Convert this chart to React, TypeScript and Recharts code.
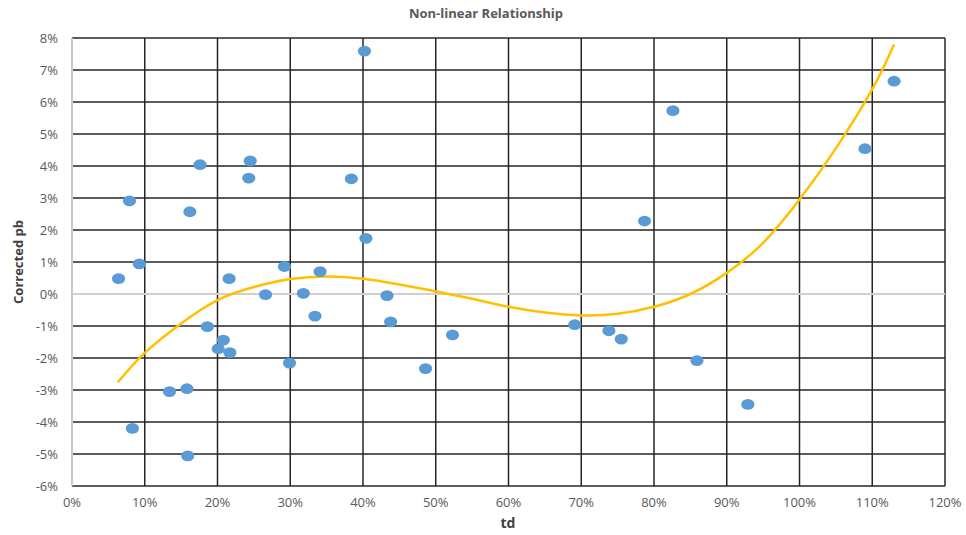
import React from "react";
import {
  ComposedChart,
  Scatter,
  Line,
  XAxis,
  YAxis,
  CartesianGrid,
  ReferenceLine,
} from "recharts";

// observed points: td (%) vs corrected pb (%)
const tdValues = [
  6.4, 7.9, 9.25, 8.3, 13.4, 15.8, 15.9, 16.2, 17.6, 18.6, 20.8, 20.1, 21.7, 21.6,
  24.5, 24.3, 26.6, 29.2, 29.9, 31.8, 33.4, 34.1, 38.4, 40.2, 40.4, 43.3, 43.8,
  48.6, 52.3, 69.1, 73.8, 75.5, 78.7, 82.6, 85.9, 92.9, 109, 113,
];
const pbValues = [
  0.48, 2.91, 0.94, -4.2, -3.05, -2.96, -5.06, 2.57, 4.04, -1.02, -1.44, -1.71, -1.83, 0.48,
  4.16, 3.62, -0.02, 0.86, -2.16, 0.02, -0.69, 0.7, 3.6, 7.59, 1.74, -0.05, -0.87,
  -2.33, -1.28, -0.96, -1.15, -1.41, 2.28, 5.73, -2.08, -3.45, 4.54, 6.65,
];

// polynomial trendline, sampled along td
const trendTd = [
  6.3, 10, 15, 20, 25, 30, 35, 40, 45, 50, 55, 60, 65, 70, 75, 80, 85, 90, 95, 100,
  105, 110, 113,
];
const trendPb = [
  -2.76, -1.84, -0.92, -0.19, 0.22, 0.47, 0.55, 0.48, 0.3, 0.08, -0.15, -0.4, -0.58,
  -0.67, -0.62, -0.4, 0.0, 0.66, 1.6, 2.95, 4.55, 6.4, 7.8,
];

const xTicks = [0, 10, 20, 30, 40, 50, 60, 70, 80, 90, 100, 110, 120];
const yTicks = [-6, -5, -4, -3, -2, -1, 0, 1, 2, 3, 4, 5, 6, 7, 8];

const points = tdValues.map((x, i) => ({ x, y: pbValues[i] }));
const trend = trendTd.map((x, i) => ({ x, y: trendPb[i] }));

const FONT = "'Open Sans', 'Liberation Sans', sans-serif";
const tickStyle = { fontSize: 13, fill: "#595959", fontFamily: FONT };

const Dot = (props: any) => (
  <ellipse cx={props.cx} cy={props.cy} rx={6.6} ry={5.4} fill="#5B9BD5" />
);

export default function App() {
  return (
    <div style={{ position: "relative", width: 966, height: 535, background: "#fff" }}>
      <style>{`body{margin:0}`}</style>
      <div
        style={{
          position: "absolute",
          left: 0,
          top: 4,
          width: 966,
          textAlign: "center",
          paddingLeft: 3,
          fontFamily: FONT,
          fontWeight: 700,
          fontSize: 13,
          color: "#595959",
        }}
      >
        Non-linear Relationship
      </div>
      <ComposedChart
        width={966}
        height={535}
        margin={{ top: 38, right: 21, bottom: 0, left: 0 }}
      >
        <CartesianGrid stroke="#262626" strokeWidth={1.5} />
        <XAxis
          type="number"
          dataKey="x"
          domain={[0, 120]}
          ticks={xTicks}
          allowDataOverflow
          tickFormatter={(v) => `${v}%`}
          axisLine={false}
          tickLine={false}
          tickSize={0}
          tickMargin={12}
          height={49}
          tick={tickStyle}
        />
        <YAxis
          type="number"
          dataKey="y"
          domain={[-6, 8]}
          ticks={yTicks}
          allowDataOverflow
          tickFormatter={(v) => `${v}%`}
          axisLine={false}
          tickLine={false}
          tickSize={0}
          tickMargin={14}
          width={72}
          tick={tickStyle}
        />
        <ReferenceLine y={0} stroke="#d0d0d0" strokeWidth={2} />
        <ReferenceLine x={0} stroke="#c8c8c8" strokeWidth={2} />
        <Scatter data={points} dataKey="y" shape={Dot} isAnimationActive={false} />
        <Line
          data={trend}
          dataKey="y"
          type="natural"
          stroke="#FFC000"
          strokeWidth={2.5}
          dot={false}
          activeDot={false}
          isAnimationActive={false}
        />
      </ComposedChart>
      <div
        style={{
          position: "absolute",
          left: 0,
          top: 513,
          width: 966,
          paddingLeft: 50,
          boxSizing: "border-box",
          textAlign: "center",
          fontFamily: FONT,
          fontWeight: 700,
          fontSize: 14,
          color: "#404040",
        }}
      >
        td
      </div>
      <div
        style={{
          position: "absolute",
          left: 18,
          top: 262,
          transform: "translate(-50%, -50%) rotate(-90deg)",
          whiteSpace: "nowrap",
          fontFamily: FONT,
          fontWeight: 700,
          fontSize: 13,
          color: "#404040",
        }}
      >
        Corrected pb
      </div>
    </div>
  );
}
